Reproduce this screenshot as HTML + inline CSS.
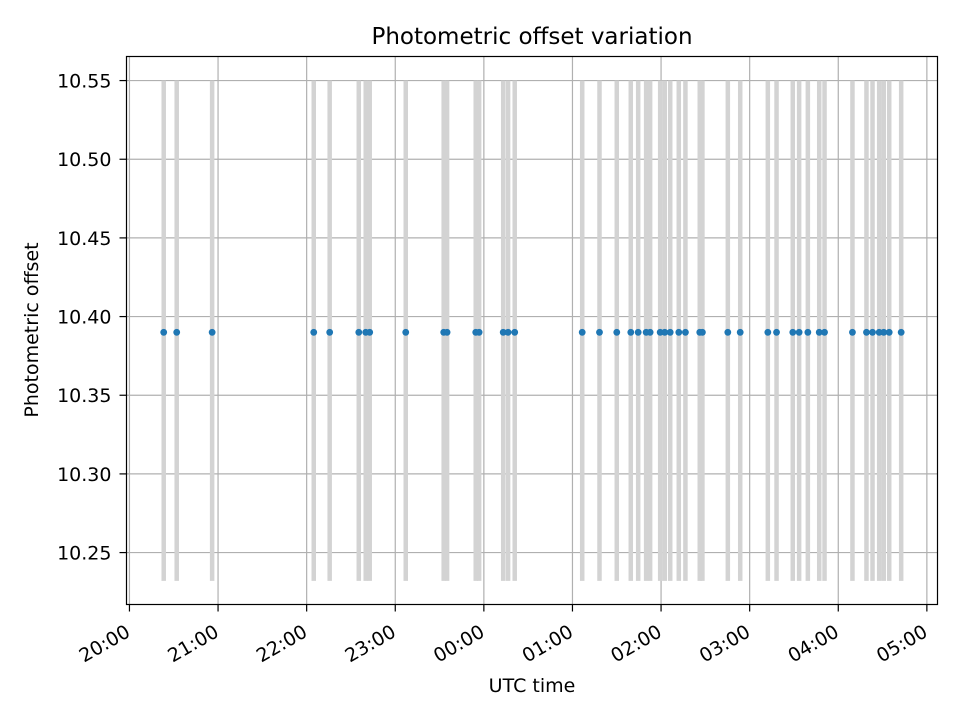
<!DOCTYPE html>
<html><head><meta charset="utf-8"><style>
body{margin:0;background:#fff;}
svg text{font-family:"DejaVu Sans","Liberation Sans",sans-serif;fill:#000;}
</style></head><body>
<svg id="chart" width="960" height="720" viewBox="0 0 960 720" xmlns="http://www.w3.org/2000/svg">
<rect width="960" height="720" fill="#fff"/>
<g id="grid"></g>
<g id="vlines"></g>
<g id="points"></g>
<rect x="126.5" y="56.5" width="811" height="548" fill="none" stroke="#000" stroke-width="1.2"/>
<g id="xticks"></g>
<g id="yticks"></g>
<text x="532" y="44" font-size="23" text-anchor="middle">Photometric offset variation</text>
<text x="532" y="692" font-size="19" text-anchor="middle">UTC time</text>
<text x="38" y="330" font-size="19" text-anchor="middle" transform="rotate(-90 38 330)">Photometric offset</text>
</svg>
<script>
// minutes after 20:00 UTC
const timesMin = [23.2,32.0,56.0,124.8,135.6,155.3,160.0,162.7,187.1,212.8,215.1,234.5,236.8,253.1,256.4,260.9,306.6,318.3,330.0,339.5,344.5,349.9,352.6,359.4,362.5,366.2,372.0,376.5,386.2,388.0,405.2,413.6,432.3,438.2,449.2,453.5,459.4,467.1,470.7,489.6,499.1,503.2,507.7,510.8,514.5,522.6];
const offsets = timesMin.map(()=>10.39);
const xTickLabels = ["20:00","21:00","22:00","23:00","00:00","01:00","02:00","03:00","04:00","05:00"];
const yTickValues = [10.25,10.30,10.35,10.40,10.45,10.50,10.55];
const vlineMin = 10.232, vlineMax = 10.55;

const L=126.5,R=937.5,T=56.5,B=604.5;
const xMin=-2.0,xMax=547.2,yMin=10.2170,yMax=10.5653;
const X=m=>L+(m-xMin)/(xMax-xMin)*(R-L);
const Y=v=>B-(v-yMin)/(yMax-yMin)*(B-T);
const NS="http://www.w3.org/2000/svg";
function mk(tag,attrs,parent){const e=document.createElementNS(NS,tag);for(const k in attrs)e.setAttribute(k,attrs[k]);parent.appendChild(e);return e;}
const grid=document.getElementById('grid'),vl=document.getElementById('vlines'),pts=document.getElementById('points'),xt=document.getElementById('xticks'),yt=document.getElementById('yticks');
xTickLabels.forEach((lab,i)=>{
  const x=X(i*60);
  const g=mk('line',{x1:x,x2:x,y1:T,y2:B,stroke:'#b0b0b0','stroke-width':1.2},grid);
  
  
  const t=mk('line',{x1:x,x2:x,y1:B,y2:B+7,stroke:'#000','stroke-width':1.2},xt);
  
  
  const ax=x+2, ay=B+31;
  const tx=mk('text',{x:ax,y:ay,'font-size':19,'text-anchor':'end',transform:`rotate(-30 ${ax} ${ay})`},xt);
  tx.textContent=lab;
  
  
});
yTickValues.forEach(v=>{
  const y=Y(v);
  const g=mk('line',{x1:L,x2:R,y1:y,y2:y,stroke:'#b0b0b0','stroke-width':1.2},grid);
  
  
  const t=mk('line',{x1:L-7,x2:L,y1:y,y2:y,stroke:'#000','stroke-width':1.2},yt);
  
  
  const tx=mk('text',{x:L-15,y:y+7,'font-size':19,'text-anchor':'end'},yt);
  tx.textContent=v.toFixed(2);
  
  
});
timesMin.forEach((m,i)=>{
  const x=X(m);
  const l=mk('line',{x1:x,x2:x,y1:Y(vlineMax),y2:Y(vlineMin),stroke:'#d3d3d3','stroke-width':4.5},vl);
  
  
  const c=mk('circle',{cx:x,cy:Y(offsets[i]),r:3.4,fill:'#1f77b4'},pts);
  
  
});
</script>
</body></html>
